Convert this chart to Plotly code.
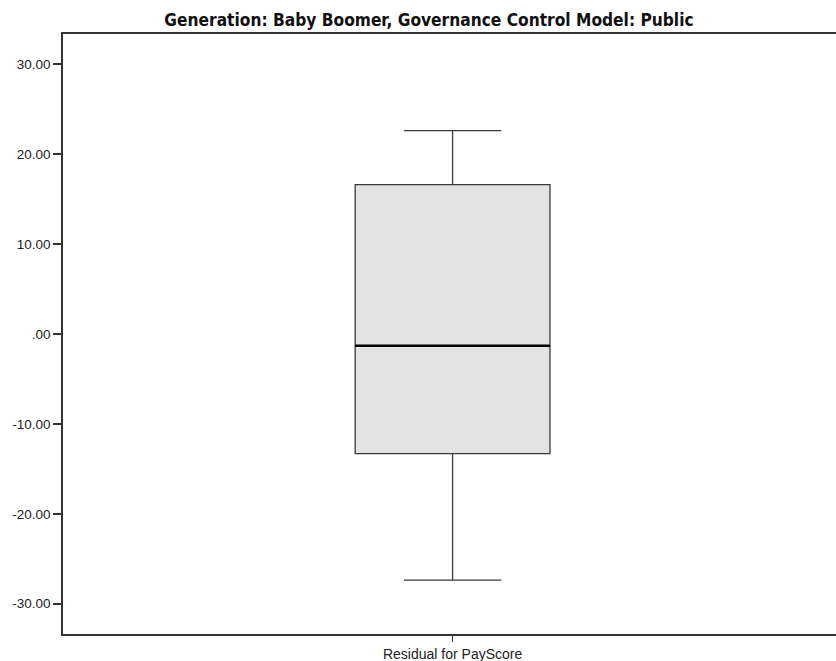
import plotly.graph_objects as go

category = ["Residual for PayScore"]
lower_whisker = [-27.38]
q1_vals = [-13.30]
median_vals = [-1.30]
q3_vals = [16.62]
upper_whisker = [22.62]
y_tick_vals = [30, 20, 10, 0, -10, -20, -30]
y_tick_text = ["30.00", "20.00", "10.00", ".00", "-10.00", "-20.00", "-30.00"]

box_width = 0.252
xpos = [0]

fig = go.Figure()
fig.add_trace(go.Box(
    x=xpos,
    q1=q1_vals, median=median_vals, q3=q3_vals,
    lowerfence=lower_whisker, upperfence=upper_whisker,
    width=box_width,
    whiskerwidth=0.5,
    fillcolor="#e3e3e3",
    line=dict(color="#3a3a3a", width=1.3),
    boxpoints=False,
    hoverinfo="skip",
    showlegend=False,
))
# thicker median line, from data
fig.add_trace(go.Scatter(
    x=[xpos[0] - box_width / 2, xpos[0] + box_width / 2],
    y=[median_vals[0], median_vals[0]],
    mode="lines",
    line=dict(color="#000000", width=2.6),
    hoverinfo="skip",
    showlegend=False,
))

fig.update_layout(
    width=836, height=661,
    margin=dict(l=63, r=0, t=34, b=27),
    paper_bgcolor="white",
    plot_bgcolor="white",
    title=dict(
        text="<b>Generation: Baby Boomer, Governance Control Model: Public</b>",
        x=429 / 836, xanchor="center", y=1 - 20 / 661, yanchor="middle",
        font=dict(family="Liberation Sans Narrow, Arial Narrow, DejaVu Sans Condensed, sans-serif",
                  size=17.2, color="#111111"),
    ),
    font=dict(family="Liberation Sans, Arial, sans-serif", size=13, color="#222222"),
)
fig.update_xaxes(
    range=[-0.504, 0.496],
    tickvals=xpos, ticktext=category,
    ticks="outside", ticklen=6, tickcolor="#333333", tickwidth=1,
    showline=True, linecolor="#333333", linewidth=1.5, mirror=True,
    showgrid=False, zeroline=False,
    tickfont=dict(size=14, color="#222222"),
)
fig.update_yaxes(
    range=[-33.37, 33.37],
    tickvals=y_tick_vals, ticktext=y_tick_text,
    ticks="outside", ticklen=8, tickcolor="#333333", tickwidth=1.5,
    showline=True, linecolor="#333333", linewidth=1.5,
    showgrid=False, zeroline=False,
    tickfont=dict(size=13.5, color="#222222"),
)

fig.write_html("out.html", config={"displayModeBar": False},
               post_script="document.body.style.margin='0px';")
